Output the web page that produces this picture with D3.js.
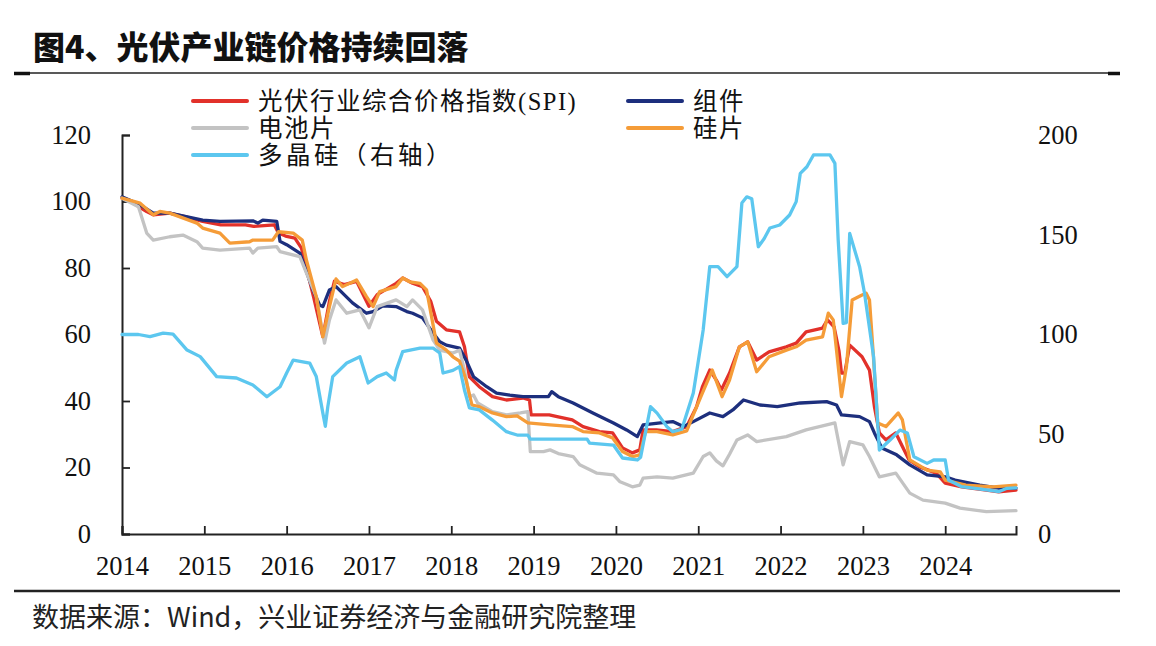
<!DOCTYPE html>
<html><head><meta charset="utf-8">
<script src="https://cdn.jsdelivr.net/npm/d3@7/dist/d3.min.js"></script>
<style>
body{margin:0;background:#fff;}
svg{display:block;}
</style></head>
<body>
<svg id="chart" width="1156" height="646"></svg>
<script>
// ---------------- data ----------------
const titleText = "图4、光伏产业链价格持续回落";
const sourceText = "数据来源：Wind，兴业证券经济与金融研究院整理";
const yearTicks = [2014,2015,2016,2017,2018,2019,2020,2021,2022,2023,2024];
const leftTicks = [0,20,40,60,80,100,120];
const rightTicks = [0,50,100,150,200];
const seriesNames = ["光伏行业综合价格指数(SPI)","组件","电池片","硅片","多晶硅（右轴）"];

// [decimal year, value]
const spi = [[2014.0,101],[2014.08,100.5],[2014.2,98.5],[2014.3,97],[2014.38,96],[2014.58,96.5],[2014.75,95.5],[2014.98,94],[2015.2,93],[2015.5,93],[2015.6,92.5],[2015.85,93],[2015.9,90.5],[2016.0,89.5],[2016.1,89],[2016.18,86],[2016.24,80],[2016.33,71],[2016.44,59.3],[2016.52,70],[2016.58,76],[2016.7,75],[2016.85,76],[2016.95,71],[2017.0,68.5],[2017.1,72],[2017.33,75.4],[2017.41,77],[2017.53,75.4],[2017.65,74.4],[2017.75,70],[2017.82,64],[2017.94,61.4],[2018.1,60.8],[2018.16,56.3],[2018.22,47.3],[2018.34,44.3],[2018.5,41.3],[2018.67,40.3],[2018.87,40.9],[2018.95,40.3],[2018.97,35.8],[2019.19,35.8],[2019.3,35.2],[2019.47,34.3],[2019.6,32.3],[2019.8,30.8],[2019.96,30.4],[2020.08,25.9],[2020.2,24.4],[2020.29,25.3],[2020.33,31.3],[2020.49,31.3],[2020.69,30.8],[2020.86,32.3],[2020.98,38.3],[2021.05,44.2],[2021.14,49.3],[2021.22,46.3],[2021.28,43.3],[2021.38,48.4],[2021.5,56.3],[2021.6,57.8],[2021.71,52.3],[2021.86,54.8],[2022.07,56.3],[2022.19,57.4],[2022.31,60.8],[2022.51,61.9],[2022.57,64.4],[2022.65,62.3],[2022.71,55],[2022.74,48.4],[2022.78,48.4],[2022.84,56.8],[2022.99,53.3],[2023.08,49.3],[2023.14,38.3],[2023.2,30.4],[2023.28,28.3],[2023.4,30.4],[2023.48,26.3],[2023.56,22.3],[2023.69,20.2],[2023.89,18.3],[2024.0,15.3],[2024.2,14.2],[2024.5,13.2],[2024.65,12.7],[2024.86,13.2]];

const module_ = [[2014.0,101.4],[2014.22,99],[2014.38,96.5],[2014.58,96.5],[2014.98,94.4],[2015.19,94],[2015.59,94.2],[2015.65,93.5],[2015.71,94.4],[2015.88,94],[2015.92,88],[2016.0,87],[2016.16,84.5],[2016.22,80.3],[2016.32,73.4],[2016.4,68.9],[2016.44,68.4],[2016.52,73.4],[2016.6,74.4],[2016.8,69.5],[2016.97,66.4],[2017.05,66.9],[2017.17,68.6],[2017.33,68.4],[2017.46,66.9],[2017.53,66.4],[2017.65,65],[2017.78,60.4],[2017.86,57.8],[2017.94,56.8],[2018.1,55.9],[2018.18,52.3],[2018.27,47.3],[2018.43,44.3],[2018.55,42.4],[2018.71,41.8],[2018.87,41.3],[2019.18,41.3],[2019.22,42.8],[2019.3,41.3],[2019.48,39.4],[2019.72,36.4],[2019.97,33.4],[2020.13,31.3],[2020.26,29.3],[2020.33,32.8],[2020.54,33.4],[2020.69,33.8],[2020.82,32.3],[2020.94,33.8],[2021.14,36.4],[2021.3,35.3],[2021.42,37.3],[2021.55,40.3],[2021.75,38.8],[2021.96,38.3],[2022.24,39.4],[2022.56,39.8],[2022.68,38.8],[2022.74,35.8],[2022.96,35.3],[2023.08,33.8],[2023.14,30.4],[2023.23,25.9],[2023.41,23.8],[2023.57,20.8],[2023.78,17.8],[2024.0,17.2],[2024.12,16.2],[2024.42,14.7],[2024.65,13.8],[2024.86,13.8]];

const cell = [[2014.0,101],[2014.2,98.4],[2014.3,90.5],[2014.38,88.4],[2014.58,89.4],[2014.74,89.9],[2014.91,87.9],[2014.98,86],[2015.19,85.4],[2015.55,86],[2015.59,84.5],[2015.65,86],[2015.88,86.4],[2015.92,84.9],[2016.16,83.4],[2016.24,78.5],[2016.36,71.4],[2016.46,57.4],[2016.52,64.4],[2016.6,70.4],[2016.73,66.4],[2016.89,67.4],[2017.0,62],[2017.1,68.4],[2017.33,70.4],[2017.46,68.4],[2017.53,70.4],[2017.65,67.4],[2017.78,58.3],[2017.86,55.3],[2018.02,54.4],[2018.1,55.3],[2018.16,49.3],[2018.22,41.3],[2018.27,41.8],[2018.32,39.4],[2018.5,36.8],[2018.67,35.8],[2018.84,36.4],[2018.93,36.8],[2018.96,24.8],[2019.12,24.8],[2019.2,25.3],[2019.3,24.2],[2019.48,23.3],[2019.56,20.8],[2019.77,18.3],[2019.97,17.8],[2020.05,15.7],[2020.2,14.2],[2020.29,14.7],[2020.33,16.8],[2020.5,17.2],[2020.69,16.8],[2020.94,18.3],[2021.06,23.3],[2021.14,24.4],[2021.22,22],[2021.3,20.5],[2021.38,24],[2021.47,28.3],[2021.6,29.8],[2021.71,27.8],[2022.07,29.3],[2022.31,31.3],[2022.56,32.8],[2022.66,33.4],[2022.7,28.3],[2022.76,20.8],[2022.84,27.8],[2023.0,26.8],[2023.08,23.3],[2023.2,17.2],[2023.4,18.3],[2023.57,12.3],[2023.73,10.2],[2024.0,9.3],[2024.18,7.8],[2024.5,6.7],[2024.86,7.0]];

const wafer = [[2014.0,101],[2014.22,99.5],[2014.38,96],[2014.46,97],[2014.58,96.5],[2014.91,93.5],[2014.98,92],[2015.19,90.5],[2015.31,87.5],[2015.55,87.9],[2015.59,88.4],[2015.83,88.4],[2015.9,90.9],[2016.08,90.5],[2016.19,88.4],[2016.24,82.4],[2016.36,71.4],[2016.44,59.3],[2016.52,68.4],[2016.6,76.7],[2016.68,74.4],[2016.85,76.4],[2016.97,71.4],[2017.05,68.4],[2017.13,72.9],[2017.33,74.4],[2017.41,77],[2017.5,75.8],[2017.62,75.4],[2017.7,73.4],[2017.82,57.4],[2017.94,55.3],[2018.02,53.3],[2018.1,52],[2018.18,46.3],[2018.25,38.8],[2018.34,38.3],[2018.5,36.4],[2018.67,35.3],[2018.8,35.5],[2018.93,33.4],[2019.2,32.8],[2019.47,32.3],[2019.6,30.8],[2019.8,30.4],[2019.96,28.9],[2020.08,24.8],[2020.2,23.3],[2020.29,23.8],[2020.36,30.8],[2020.5,30.8],[2020.69,29.8],[2020.86,31],[2020.93,35.3],[2021.05,42.4],[2021.17,49.3],[2021.29,41.3],[2021.38,46.3],[2021.5,56.3],[2021.6,57.8],[2021.71,48.8],[2021.86,53.3],[2022.07,55.3],[2022.19,56.3],[2022.31,58.3],[2022.51,59.3],[2022.58,66.4],[2022.64,64.4],[2022.74,41.3],[2022.8,50.3],[2022.87,70.4],[2022.99,71.9],[2023.04,72.4],[2023.08,70.4],[2023.12,56.3],[2023.18,33.4],[2023.28,32.3],[2023.43,36.4],[2023.48,34.3],[2023.57,22.3],[2023.78,19.2],[2023.94,18.7],[2024.0,16.2],[2024.25,14.7],[2024.58,14.2],[2024.86,14.7]];

const polysilicon = [[2014.0,100],[2014.2,100],[2014.34,98.9],[2014.5,100.7],[2014.62,100.2],[2014.79,92.2],[2014.95,88.9],[2015.15,78.9],[2015.39,78.2],[2015.59,74.7],[2015.76,68.8],[2015.92,73.8],[2016.0,80.7],[2016.08,87.2],[2016.28,85.7],[2016.36,78.9],[2016.44,60.6],[2016.47,54],[2016.5,63.8],[2016.56,78.9],[2016.73,85.7],[2016.89,88.9],[2016.99,75.7],[2017.1,78.9],[2017.21,80.7],[2017.31,77.2],[2017.33,82],[2017.41,91.4],[2017.62,93.2],[2017.78,93.2],[2017.86,90.7],[2017.9,80.7],[2018.02,82],[2018.1,83.9],[2018.16,72.2],[2018.22,63.2],[2018.34,62.2],[2018.5,57.1],[2018.67,51.3],[2018.8,49.6],[2018.93,49.6],[2018.96,47.6],[2019.65,47.6],[2019.68,45.6],[2019.97,44.6],[2020.08,38.1],[2020.26,37.1],[2020.3,38.5],[2020.42,63.8],[2020.5,60.6],[2020.62,53.8],[2020.69,51.3],[2020.8,52.5],[2020.94,70.7],[2021.06,102.3],[2021.14,134],[2021.24,134],[2021.35,129],[2021.47,134],[2021.53,165.9],[2021.59,169],[2021.65,168],[2021.73,144],[2021.8,148],[2021.87,153.4],[2021.99,154.9],[2022.11,159.9],[2022.19,166.6],[2022.24,180.8],[2022.32,184.1],[2022.4,190],[2022.6,190],[2022.66,185.8],[2022.7,147.4],[2022.76,105.6],[2022.8,106],[2022.84,150.7],[2022.96,134],[2023.02,120.7],[2023.13,88.9],[2023.2,42.1],[2023.33,47.1],[2023.45,52.1],[2023.54,50.6],[2023.62,38.7],[2023.78,35.4],[2023.86,37.1],[2024.0,37.1],[2024.04,27.1],[2024.2,23.7],[2024.5,22.1],[2024.65,21.2],[2024.75,22.9],[2024.86,23.1]];

const seriesData = [spi, module_, cell, wafer, polysilicon];
const seriesAxis = ["left","left","left","left","right"];
const seriesColors = ["#e2312a","#1d2f7d","#c3c3c3","#f59c38","#5cc7ef"];

// ---------------- drawing ----------------
const svg = d3.select("#chart");
const serif = "'Liberation Serif','Times New Roman','Noto Sans CJK SC',serif";
const cjk = "'Noto Sans CJK SC','Noto Sans',sans-serif";

const x = d3.scaleLinear().domain([2014, 2024.86]).range([122, 1016]);
const yL = d3.scaleLinear().domain([0,120]).range([534,135]);
const yR = d3.scaleLinear().domain([0,200]).range([534,135]);

// title
svg.append("text").attr("x",33).attr("y",59).text(titleText)
  .attr("font-family",cjk).attr("font-weight",900).attr("font-size",32).attr("fill","#111");
// rules
svg.append("line").attr("x1",14).attr("x2",1120).attr("y1",73).attr("y2",73).attr("stroke","#222").attr("stroke-width",1.5);
[[14,30],[1108,1120]].forEach(s=>svg.append("line").attr("x1",s[0]).attr("x2",s[1]).attr("y1",73.5).attr("y2",73.5).attr("stroke","#111").attr("stroke-width",3.5));
svg.append("line").attr("x1",14).attr("x2",1120).attr("y1",591).attr("y2",591).attr("stroke","#222").attr("stroke-width",2.5);
// source
svg.append("text").attr("x",32).attr("y",627).text(sourceText)
  .attr("font-family",cjk).attr("font-size",27).attr("fill","#222");

// axes
const gL = svg.append("g").attr("transform","translate(122,0)")
  .call(d3.axisLeft(yL).tickValues(leftTicks).tickSize(-8).tickPadding(31).tickFormat(d3.format("d")));
const gB = svg.append("g").attr("transform","translate(0,534)")
  .call(d3.axisBottom(x).tickValues(yearTicks).tickSize(-8).tickPadding(0).tickFormat(d=>String(d)));
gB.selectAll(".tick text").attr("y",41).attr("dy",0);
const gR = svg.append("g").attr("transform","translate(1016,0)")
  .call(d3.axisRight(yR).tickValues(rightTicks).tickSize(0).tickPadding(22).tickFormat(d3.format("d")));
gR.select(".domain").remove();
[gL,gB,gR].forEach(g=>{
  g.selectAll("text").attr("font-family",serif).attr("font-size",26.5).attr("fill","#111");
  g.selectAll("line").attr("stroke","#222").attr("stroke-width",1.8);
  g.selectAll(".domain").attr("stroke","#222").attr("stroke-width",2);
});

// lines
seriesData.forEach((d,i)=>{
  const yy = seriesAxis[i]==="right" ? yR : yL;
  const line = d3.line().x(p=>x(p[0])).y(p=>yy(p[1])).curve(d3.curveLinear);
  svg.append("path").datum(d).attr("d",line).attr("fill","none")
    .attr("stroke",seriesColors[i]).attr("stroke-width",3.3).attr("stroke-linejoin","round").attr("stroke-linecap","round");
});

// legend
const legendPos = [[193,101],[628,101],[193,128],[628,128],[193,155]];
seriesNames.forEach((n,i)=>{
  const [lx,ly] = legendPos[i];
  svg.append("line").attr("x1",lx).attr("x2",lx+54).attr("y1",ly).attr("y2",ly)
    .attr("stroke",seriesColors[i]).attr("stroke-width",4).attr("stroke-linecap","round");
  svg.append("text").attr("x",lx+65).attr("y",ly).attr("dy","0.36em").text(n)
    .attr("font-family",serif).attr("font-size",24.5).attr("letter-spacing",i===4?3.5:1.5).attr("fill","#111");
});
</script>
</body></html>
